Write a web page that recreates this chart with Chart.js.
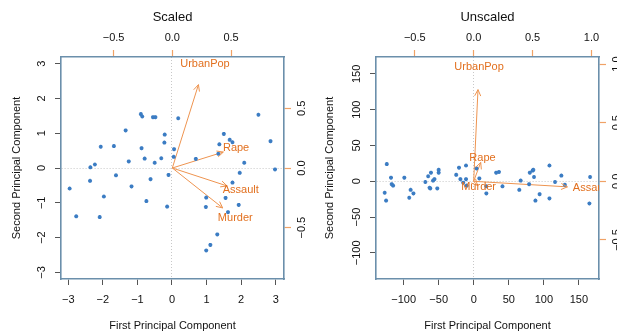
<!DOCTYPE html>
<html>
<head>
<meta charset="utf-8">
<script src="https://cdn.jsdelivr.net/npm/chart.js@4/dist/chart.umd.min.js"></script>
<style>
  body { margin: 0; background: #fff; }
  #wrap { position: relative; width: 617px; height: 331px; overflow: hidden; }
  .box { position: absolute; top: 0; height: 331px; }
</style>
</head>
<body>
<div id="wrap">
  <div class="box" style="left:0;width:310px"><canvas id="scaled"></canvas></div>
  <div class="box" style="left:310px;width:307px"><canvas id="unscaled"></canvas></div>
</div>
<script>
// --- data: PC scores (PC1, PC2) ---
const scaledPC1 = [0.98, 1.93, 1.75, -0.14, 2.50, 1.50, -1.34, 0.05, 2.98, 1.62,
  -0.90, -1.62, 1.37, -0.50, -2.23, -0.79, -0.74, 1.55, -2.37, 1.75,
  -0.48, 2.09, -1.68, 0.99, 0.69, -1.17, -1.25, 2.85, -2.36, 0.18,
  1.96, 1.67, 1.11, -2.96, -0.22, -0.31, 0.06, -0.88, -0.86, 1.31,
  -1.97, 0.99, 1.34, -0.55, -2.77, -0.10, -0.21, -2.09, -2.06, -0.62];
const scaledPC2 = [-1.12, -1.06, 0.74, -1.11, 1.53, 0.98, 1.08, 0.32, -0.04, -1.27,
  1.55, -0.21, 0.68, 0.15, 0.10, 0.27, -0.95, -0.86, -0.37, -0.42,
  1.46, 0.15, 0.63, -2.37, 0.26, -0.53, 0.19, 0.77, 0.02, 1.43,
  -0.14, 0.81, -2.21, -0.59, 0.73, 0.28, 0.54, 0.57, 1.48, -1.91,
  -0.82, -0.85, 0.41, 1.46, -1.39, -0.20, 0.96, -1.41, 0.61, -0.32];

const unscaledPC1 = [-124, -118, -117, -115, -127, -125, -99, -90, -86, -92,
  -69, -65, -61, -58, -56, -62, -63, -52, -50, -50,
  -25, -21, -11, -19, -11, -15, -10, 4, 8, 18,
  18, 32, 36, 41, 67, 79, 65, 80, 84, 85,
  86, 94, 88, 108, 108, 116, 125, 130, 166, 165];
const unscaledPC2 = [24, 5, -4, -6, -16, -27, 5, -12, -17, -23,
  -1, 7, 12, 1, 3, -10, -9, -10, 16, 12,
  9, 19, 22, 3, 3, -2, -6, 18, 4, -17,
  -7, 12, 13, -7, 1, -4, -12, 12, 15, 16,
  6, -18, -27, 22, -24, -1, 8, -5, 6, -31];

// --- loadings (label positions), arrows drawn to 0.8 of them ---
const variables = ['Murder', 'Assault', 'UrbanPop', 'Rape'];
const scaledLoad1 = [0.536, 0.583, 0.278, 0.543];
const scaledLoad2 = [-0.418, -0.188, 0.873, 0.167];
const unscaledLoad1 = [0.042, 0.995, 0.046, 0.075];
const unscaledLoad2 = [-0.045, -0.059, 0.977, 0.201];

// --- ticks ---
const scaledScoreTicks = [-3, -2, -1, 0, 1, 2, 3];
const scaledScoreLabels = ['\u22123', '\u22122', '\u22121', '0', '1', '2', '3'];
const scaledLoadTicks = [-0.5, 0, 0.5];
const scaledLoadLabels = ['\u22120.5', '0.0', '0.5'];
const unscaledXTicks = [-100, -50, 0, 50, 100, 150];
const unscaledXLabels = ['\u2212100', '\u221250', '0', '50', '100', '150'];
const unscaledYTicks = [-100, -50, 0, 50, 100, 150];
const unscaledYLabels = ['\u2212100', '\u221250', '0', '50', '100', '150'];
const unscaledLoadTicks = [-0.5, 0, 0.5, 1.0];
const unscaledLoadLabels = ['\u22120.5', '0.0', '0.5', '1.0'];

const FONT = '"Liberation Sans", Arial, Helvetica, sans-serif';
const BLUE = '#3b7cc3';
const FRAME = '#6b8fab';
const ORANGE = '#e2701f';
const ARROW = '#ee9450';
const TICK_ORANGE = '#f0a266';

function pts(xs, ys) { return xs.map((x, i) => ({ x: x, y: ys[i] })); }

function makeChart(id, cfg) {
  const W = cfg.width, H = 331;
  const fixTicks = (vals) => (s) => { s.ticks = vals.map(v => ({ value: v })); };
  const labelFrom = (vals, labels) => (v) => { const i = vals.indexOf(v); return i < 0 ? '' : labels[i]; };
  const frameBorder = { display: true, color: FRAME, width: 1.6 };
  const zeroGrid = (ctx) => ctx.tick && ctx.tick.value === 0 ? '#c8c8c8' : 'rgba(0,0,0,0)';

  const datasets = [{
    type: 'scatter',
    data: pts(cfg.pc1, cfg.pc2),
    xAxisID: 'x', yAxisID: 'y',
    pointStyle: 'star', pointRadius: 2, borderWidth: 1.2,
    borderColor: BLUE, backgroundColor: BLUE
  }];
  variables.forEach((v, i) => {
    datasets.push({
      type: 'line',
      data: [{ x: 0, y: 0 }, { x: cfg.l1[i] * 0.8, y: cfg.l2[i] * 0.8 }],
      xAxisID: 'x2', yAxisID: 'y2',
      borderColor: ARROW, borderWidth: 1, pointRadius: 0, fill: false
    });
  });

  const biplot = {
    id: 'biplot',
    afterDatasetsDraw(chart) {
      const c = chart.ctx, sx = chart.scales.x2, sy = chart.scales.y2, a = chart.chartArea;
      const x0 = sx.getPixelForValue(0), y0 = sy.getPixelForValue(0);
      c.save();
      c.beginPath();
      c.rect(a.left, a.top, a.right - a.left, a.bottom - a.top);
      c.clip();
      // arrow heads
      c.strokeStyle = ARROW; c.lineWidth = 1;
      variables.forEach((v, i) => {
        const x1 = sx.getPixelForValue(cfg.l1[i] * 0.8), y1 = sy.getPixelForValue(cfg.l2[i] * 0.8);
        const ang = Math.atan2(y1 - y0, x1 - x0), h = 7, s = Math.PI / 7;
        c.beginPath();
        c.moveTo(x1 - h * Math.cos(ang - s), y1 - h * Math.sin(ang - s));
        c.lineTo(x1, y1);
        c.lineTo(x1 - h * Math.cos(ang + s), y1 - h * Math.sin(ang + s));
        c.stroke();
      });
      // variable names, clipped to the plot region like R does
      c.fillStyle = ORANGE; c.font = '11px ' + FONT;
      c.textAlign = 'center'; c.textBaseline = 'middle';
      variables.forEach((v, i) => {
        c.fillText(v, sx.getPixelForValue(cfg.l1[i]), sy.getPixelForValue(cfg.l2[i]));
      });
      c.restore();
    },
    afterDraw(chart) {
      const c = chart.ctx, a = chart.chartArea;
      const mid = (a.left + a.right) / 2;
      c.save();
      c.fillStyle = '#111';
      c.textAlign = 'center'; c.textBaseline = 'middle';
      c.font = '13px ' + FONT;
      c.fillText(cfg.title, mid, 17);
      c.font = '11px ' + FONT;
      c.fillText('First Principal Component', mid, 326);
      const rot = (txt, x, y) => {
        c.save(); c.translate(x, y); c.rotate(-Math.PI / 2); c.fillText(txt, 0, 0); c.restore();
      };
      rot('Second Principal Component', cfg.ytitleX, (a.top + a.bottom) / 2);
      const sy = chart.scales.y, sy2 = chart.scales.y2;
      cfg.yTicks.forEach((v, i) => rot(cfg.yLabels[i], a.left - 19, sy.getPixelForValue(v)));
      cfg.lTicks.forEach((v, i) => rot(cfg.lLabels[i], a.right + 18, sy2.getPixelForValue(v)));
      c.restore();
    }
  };

  return new Chart(document.getElementById(id), {
    data: { datasets: datasets },
    plugins: [biplot],
    options: {
      responsive: true,
      maintainAspectRatio: false,
      animation: false,
      layout: { padding: 0 },
      plugins: { legend: { display: false }, tooltip: { enabled: false } },
      scales: {
        x: {
          type: 'linear', position: 'bottom', min: cfg.xr[0], max: cfg.xr[1],
          afterBuildTicks: fixTicks(cfg.xTicks),
          afterFit: (s) => { s.height = H - cfg.area.bottom; },
          ticks: { callback: labelFrom(cfg.xTicks, cfg.xLabels), color: '#111',
                   font: { family: FONT, size: 11 }, padding: 8, maxRotation: 0, autoSkip: false },
          grid: { color: zeroGrid, lineWidth: 1, tickColor: '#555', tickLength: 6 },
          border: Object.assign({ dash: [1, 2] }, frameBorder)
        },
        x2: {
          type: 'linear', position: 'top', min: cfg.lxr[0], max: cfg.lxr[1],
          afterBuildTicks: fixTicks(cfg.lTicksX),
          afterFit: (s) => { s.height = cfg.area.top; },
          ticks: { callback: labelFrom(cfg.lTicksX, cfg.lLabelsX), color: '#111',
                   font: { family: FONT, size: 11 }, padding: 5, maxRotation: 0, autoSkip: false },
          grid: { drawOnChartArea: false, tickColor: TICK_ORANGE, tickLength: 7, tickWidth: 1.2 },
          border: frameBorder
        },
        y: {
          type: 'linear', position: 'left', min: cfg.yr[0], max: cfg.yr[1],
          afterBuildTicks: fixTicks(cfg.yTicks),
          afterFit: (s) => { s.width = cfg.area.left; },
          ticks: { display: false },
          grid: { color: zeroGrid, lineWidth: 1, tickColor: '#555', tickLength: 6 },
          border: Object.assign({ dash: [1, 2] }, frameBorder)
        },
        y2: {
          type: 'linear', position: 'right', min: cfg.lyr[0], max: cfg.lyr[1],
          afterBuildTicks: fixTicks(cfg.lTicks),
          afterFit: (s) => { s.width = W - cfg.area.right; },
          ticks: { display: false },
          grid: { drawOnChartArea: false, tickColor: TICK_ORANGE, tickLength: 7, tickWidth: 1.2 },
          border: frameBorder
        }
      }
    }
  });
}

makeChart('scaled', {
  width: 310, title: 'Scaled', ytitleX: 17,
  area: { left: 61, right: 284, top: 57, bottom: 279 },
  pc1: scaledPC1, pc2: scaledPC2, l1: scaledLoad1, l2: scaledLoad2,
  xr: [-3.21, 3.24], yr: [-3.19, 3.19], lxr: [-0.948, 0.951], lyr: [-0.93, 0.93],
  xTicks: scaledScoreTicks, xLabels: scaledScoreLabels,
  yTicks: scaledScoreTicks, yLabels: scaledScoreLabels,
  lTicksX: scaledLoadTicks, lLabelsX: scaledLoadLabels,
  lTicks: scaledLoadTicks, lLabels: scaledLoadLabels
});

makeChart('unscaled', {
  width: 307, title: 'Unscaled', ytitleX: 20,
  area: { left: 66, right: 289, top: 57, bottom: 279 },
  pc1: unscaledPC1, pc2: unscaledPC2, l1: unscaledLoad1, l2: unscaledLoad2,
  xr: [-139.4, 178.7], yr: [-136.5, 173.6], lxr: [-0.829, 1.064], lyr: [-0.833, 1.06],
  xTicks: unscaledXTicks, xLabels: unscaledXLabels,
  yTicks: unscaledYTicks, yLabels: unscaledYLabels,
  lTicksX: unscaledLoadTicks, lLabelsX: unscaledLoadLabels,
  lTicks: unscaledLoadTicks, lLabels: unscaledLoadLabels
});
</script>
</body>
</html>
